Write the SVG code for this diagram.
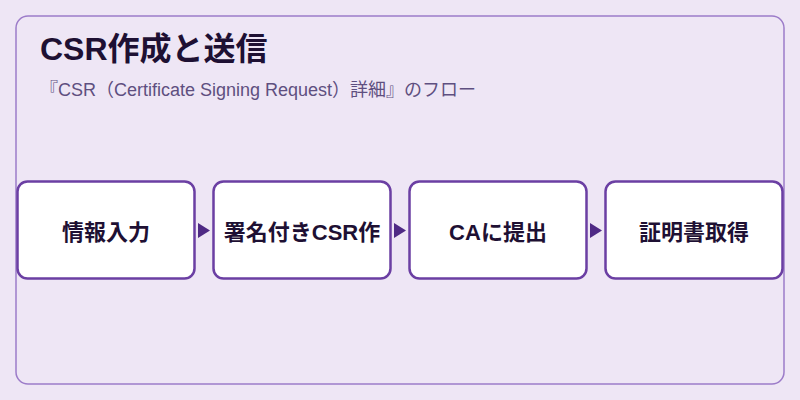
<svg xmlns="http://www.w3.org/2000/svg" width="800" height="400" viewBox="0 0 800 400">
<defs>
<style>
.t{font-family:"Liberation Sans","Noto Sans CJK JP",sans-serif}
.title{font-size:32px;font-weight:700;fill:#1E1033}
.sub{font-size:18px;fill:#5E4F80}
.box{fill:#FFFFFF;stroke:#6B3FA3;stroke-width:2.5}
.lbl{font-size:22px;font-weight:700;fill:#1E1033;text-anchor:middle}
.arr{fill:#4F2A85}
</style>
</defs>
<rect x="0" y="0" width="800" height="400" fill="#EEE6F5"/>
<rect x="16" y="16" width="768" height="368" rx="12" fill="#EEE6F5" stroke="#9C7CC9" stroke-width="1.5"/>
<text class="t title" x="40" y="60">CSR作成と送信</text>
<text class="t sub" x="40" y="96">『CSR（Certificate Signing Request）詳細』のフロー</text>
<g id="connectors">
<polygon class="arr" points="198,223 210,230.5 198,238"/>
<polygon class="arr" points="394,223 406,230.5 394,238"/>
<polygon class="arr" points="590,223 602,230.5 590,238"/>
</g>
<g id="n1"><rect class="box" x="17.5" y="181.5" width="177" height="97" rx="10"/><text class="t lbl" x="106" y="240">情報入力</text></g>
<g id="n2"><rect class="box" x="213.5" y="181.5" width="177" height="97" rx="10"/><text class="t lbl" x="302" y="240">署名付きCSR作</text></g>
<g id="n3"><rect class="box" x="409.5" y="181.5" width="177" height="97" rx="10"/><text class="t lbl" x="498" y="240">CAに提出</text></g>
<g id="n4"><rect class="box" x="605.5" y="181.5" width="177" height="97" rx="10"/><text class="t lbl" x="694" y="240">証明書取得</text></g>
</svg>
